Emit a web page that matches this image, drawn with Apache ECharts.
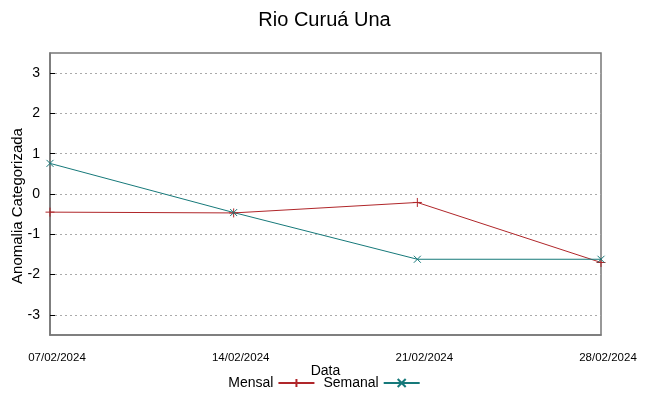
<!DOCTYPE html>
<html><head><meta charset="utf-8">
<script src="https://cdn.jsdelivr.net/npm/echarts@6/dist/echarts.min.js"></script>
<style>html,body{margin:0;padding:0;background:#fff}#c{width:649px;height:396px}</style>
</head><body><div id="c"></div>
<script>
const categories = ['07/02/2024','14/02/2024','21/02/2024','28/02/2024'];
const mensal = [-0.45, -0.47, -0.21, -1.70];
const semanal = [0.76, -0.46, -1.62, -1.62];
const yTicks = [-3,-2,-1,0,1,2,3];

const FONT = 'Liberation Sans';
const RED = '#b0262a';
const TEAL = '#16797a';
const plusPath = 'path://M5,0 L5,10 M0,5 L10,5';
const crossPath = 'path://M0,0 L10,10 M10,0 L0,10';

const chart = echarts.init(document.getElementById('c'));
chart.setOption({
  animation:false,
  backgroundColor:'#fff',
  textStyle:{fontFamily:FONT},
  title:{text:'Rio Curuá Una',left:'center',top:5,textStyle:{fontFamily:FONT,fontSize:20,fontWeight:'normal',color:'#000'}},
  legend:{
    bottom:1,left:'center',align:'right',itemWidth:36,itemHeight:10,itemGap:8,
    textStyle:{fontFamily:FONT,fontSize:14,color:'#000'},
    data:['Mensal','Semanal']
  },
  grid:{left:50,right:48,top:53,bottom:61,show:true,borderColor:'#777',borderWidth:1.5,
        containLabel:false,outerBoundsMode:'none'},
  xAxis:{
    type:'category',data:categories,boundaryGap:false,
    name:'Data',nameLocation:'middle',nameGap:29,nameMoveOverlap:false,
    nameTextStyle:{fontFamily:FONT,fontSize:14,color:'#000'},
    axisLine:{show:true,onZero:false,lineStyle:{color:'#777',width:1.5}},
    axisTick:{show:false},
    axisLabel:{fontFamily:FONT,fontSize:11.5,color:'#000',margin:17,padding:[0,0,0,14]},
    splitLine:{show:false}
  },
  yAxis:{
    type:'value',min:-3.5,max:3.5,
    name:'Anomalia Categorizada',nameLocation:'middle',nameGap:25,nameMoveOverlap:false,
    nameTextStyle:{fontFamily:FONT,fontSize:15,color:'#000',padding:[0,24,0,0]},
    axisLine:{show:true,onZero:false,lineStyle:{color:'#777',width:1.5}},
    axisTick:{show:true,inside:true,length:5,customValues:yTicks,lineStyle:{color:'#000'}},
    axisLabel:{fontFamily:FONT,fontSize:14,color:'#000',margin:10,
      customValues:yTicks, formatter:v=>String(v)},
    splitLine:{show:true,lineStyle:{color:'#aaa',type:[2,3],width:1}}
  },
  series:[
    {name:'Mensal',type:'line',data:mensal,symbol:plusPath,symbolSize:9,
     lineStyle:{color:RED,width:1},itemStyle:{color:RED,borderColor:RED,borderWidth:1}},
    {name:'Semanal',type:'line',data:semanal,symbol:crossPath,symbolSize:7,
     lineStyle:{color:TEAL,width:1},itemStyle:{color:TEAL,borderColor:TEAL,borderWidth:1}}
  ]
});
</script></body></html>
